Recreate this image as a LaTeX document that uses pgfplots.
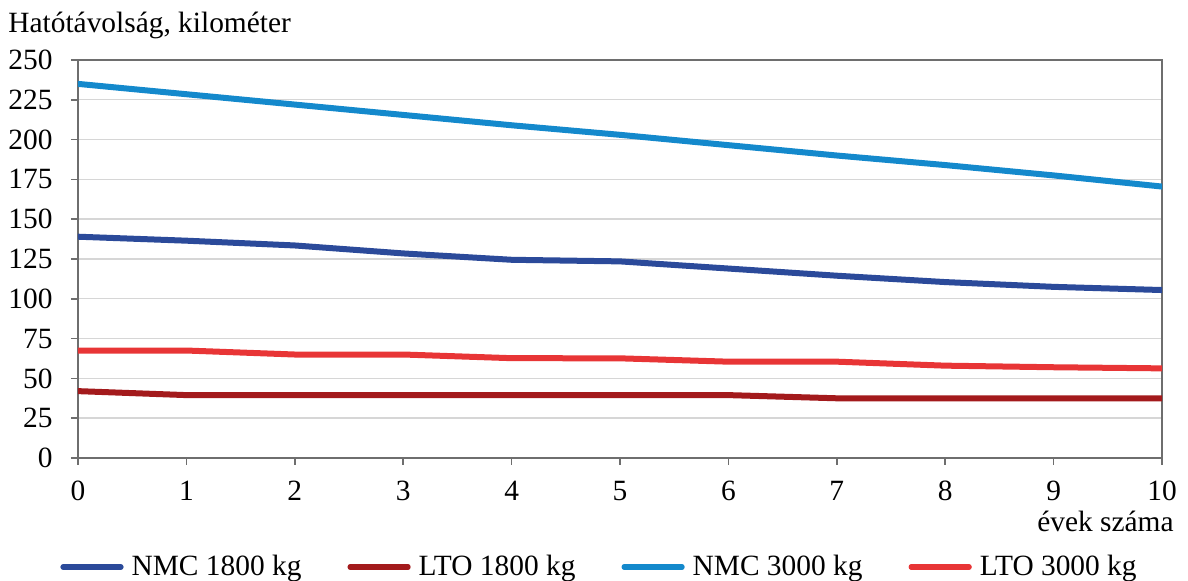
\documentclass[border=0pt]{standalone}
\usepackage{fontspec}
\setmainfont{Liberation Serif}
\usepackage{pgfplots}
\pgfplotsset{compat=1.18}
\definecolor{nmcA}{HTML}{2B4A9A}
\definecolor{ltoA}{HTML}{A31A1C}
\definecolor{nmcB}{HTML}{1489CC}
\definecolor{ltoB}{HTML}{E83536}
\definecolor{axgray}{HTML}{6E6E6E}
\definecolor{gridgray}{HTML}{D6D6D6}
\newcommand{\fs}{\fontsize{14.7pt}{17pt}\selectfont}
\begin{document}
\begin{tikzpicture}
\begin{axis}[
  scale only axis,
  width=542pt, height=199pt,
  xmin=0, xmax=10, ymin=0, ymax=250,
  xtick={0,1,...,10}, ytick={0,25,...,250},
  tick pos=left,
  tick align=outside,
  major tick length=3.5pt,
  tick style={axgray, line width=0.8pt},
  axis line style={axgray, line width=0.8pt},
  ymajorgrids,
  grid style={gridgray, line width=0.7pt},
  /pgf/number format/assume math mode=true,
  xticklabel={\rmfamily\pgfmathprintnumber{\tick}},
  yticklabel={\rmfamily\pgfmathprintnumber{\tick}},
  ticklabel style={font=\fs},
  yticklabel style={inner sep=0pt, anchor=east, xshift=-9pt},
  xticklabel style={inner sep=0pt, anchor=north, yshift=-8pt},
  xlabel={évek száma},
  xlabel style={font=\fs, inner sep=0pt, at={(1,0)}, anchor=base east, xshift=6pt, yshift=-37pt},
  legend columns=4,
  legend style={font=\fs, draw=none, inner sep=0pt, at={(0,0)}, anchor=west, xshift=-9pt, yshift=-54.5pt,
    /tikz/every odd column/.append style={column sep=2pt},
    /tikz/every even column/.append style={column sep=21pt}},
  legend image code/.code={\draw[#1, line width=2.6pt] (0pt,0pt) -- (29pt,0pt);},
  every axis plot/.append style={line width=3pt, line cap=round, line join=round},
]
\addplot[nmcA] coordinates {(0,139) (1,136.5) (2,133.5) (3,128.5) (4,124.5) (5,123.5) (6,119) (7,114.5) (8,110.5) (9,107.5) (10,105.5)};
\addlegendentry{NMC 1800 kg}
\addplot[ltoA] coordinates {(0,42) (1,39.5) (2,39.5) (3,39.5) (4,39.5) (5,39.5) (6,39.5) (7,37.5) (8,37.5) (9,37.5) (10,37.5)};
\addlegendentry{LTO 1800 kg}
\addplot[nmcB] coordinates {(0,235) (1,228.5) (2,222) (3,215.5) (4,209) (5,203) (6,196.5) (7,190) (8,184) (9,177.5) (10,170.5)};
\addlegendentry{NMC 3000 kg}
\addplot[ltoB] coordinates {(0,67.5) (1,67.5) (2,65) (3,65) (4,62.7) (5,62.6) (6,60.5) (7,60.5) (8,58) (9,57) (10,56.3)};
\addlegendentry{LTO 3000 kg}
\end{axis}
\node[font=\fs, inner sep=0pt, anchor=base west] at (-35pt,212.5pt) {Hatótávolság, kilométer};
\pgfresetboundingbox
\path[use as bounding box] (-39pt,-61.5pt) rectangle (555pt,229pt);
\end{tikzpicture}
\end{document}
